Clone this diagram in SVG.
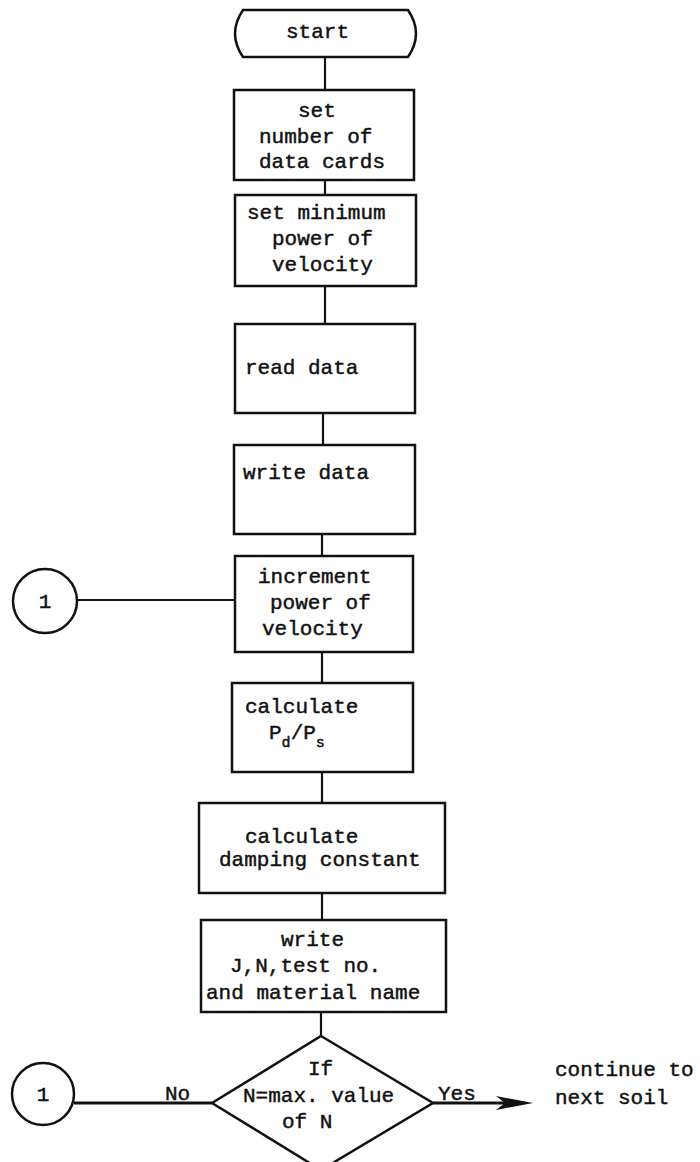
<svg xmlns="http://www.w3.org/2000/svg" width="700" height="1162" viewBox="0 0 700 1162">
<style>
.n{fill:#fff;stroke:#111;stroke-width:2.5}
.c{fill:none;stroke:#111;stroke-width:2.2}
.t{font-family:"Liberation Mono","Courier New",monospace;font-size:21px;fill:#111;stroke:#111;stroke-width:0.45}
.s{font-size:15px}
</style>
<rect width="700" height="1162" fill="#fff"/>
<g id="connectors">
<line class="c" x1="325" y1="57" x2="325" y2="90"/>
<line class="c" x1="325" y1="180" x2="325" y2="195"/>
<line class="c" x1="325" y1="286" x2="325" y2="324"/>
<line class="c" x1="323" y1="413" x2="323" y2="445"/>
<line class="c" x1="322" y1="534" x2="322" y2="556"/>
<line class="c" x1="77" y1="600" x2="235" y2="600" style="stroke-width:1.8"/>
<line class="c" x1="322" y1="652" x2="322" y2="683"/>
<line class="c" x1="322" y1="772" x2="322" y2="803"/>
<line class="c" x1="322" y1="893" x2="322" y2="920"/>
<line class="c" x1="321" y1="1012" x2="321" y2="1036"/>
<line class="c" x1="74" y1="1103" x2="212" y2="1103" style="stroke-width:3"/>
<line class="c" x1="433" y1="1103" x2="520" y2="1103" style="stroke-width:3"/>
<path d="M533 1103 L496 1096 L505 1103 L496 1110 Z" fill="#111"/>
<text class="t" x="165" y="1100">No</text>
<text class="t" x="438" y="1100">Yes</text>
</g>
<g id="start">
<path class="n" d="M243 10 H408 Q424 33.5 408 57 H243 Q227 33.5 243 10 Z"/>
<text class="t" x="286" y="38">start</text>
</g>
<g id="set-cards">
<rect class="n" x="234" y="90" width="180" height="90"/>
<text class="t" x="298" y="117">set</text>
<text class="t" x="259" y="143">number of</text>
<text class="t" x="259" y="168">data cards</text>
</g>
<g id="set-min-power">
<rect class="n" x="235" y="195" width="181" height="91"/>
<text class="t" x="247" y="219">set minimum</text>
<text class="t" x="272" y="245">power of</text>
<text class="t" x="272" y="271">velocity</text>
</g>
<g id="read-data">
<rect class="n" x="235" y="324" width="180" height="89"/>
<text class="t" x="245" y="374">read data</text>
</g>
<g id="write-data">
<rect class="n" x="234" y="445" width="181" height="89"/>
<text class="t" x="243" y="479">write data</text>
</g>
<g id="increment">
<rect class="n" x="235" y="556" width="178" height="96"/>
<text class="t" x="258" y="583">increment</text>
<text class="t" x="270" y="609">power of</text>
<text class="t" x="262" y="635">velocity</text>
</g>
<g id="connector-1a">
<circle class="n" cx="45" cy="601" r="32"/>
<text class="t" x="45" y="608" text-anchor="middle">1</text>
</g>
<g id="calc-pd-ps">
<rect class="n" x="232" y="683" width="181" height="89"/>
<text class="t" x="245" y="713">calculate</text>
<text class="t" x="269" y="739">P<tspan class="s" dy="8">d</tspan><tspan dy="-8">/P</tspan><tspan class="s" dy="8">s</tspan></text>
</g>
<g id="calc-damping">
<rect class="n" x="199" y="803" width="246" height="90"/>
<text class="t" x="245" y="843">calculate</text>
<text class="t" x="219" y="866">damping constant</text>
</g>
<g id="write-results">
<rect class="n" x="201" y="920" width="245" height="92"/>
<text class="t" x="281" y="946">write</text>
<text class="t" x="230" y="972">J,N,test no.</text>
<text class="t" x="206" y="999">and material name</text>
</g>
<g id="decision">
<path class="n" d="M321 1036 L433 1103 L321 1170 L212 1103 Z"/>
<text class="t" x="308" y="1075">If</text>
<text class="t" x="243" y="1102">N=max. value</text>
<text class="t" x="282" y="1128">of N</text>
</g>
<g id="connector-1b">
<circle class="n" cx="43" cy="1094" r="31"/>
<text class="t" x="43" y="1101" text-anchor="middle">1</text>
</g>
<g id="continue">
<text class="t" x="555" y="1076">continue to</text>
<text class="t" x="555" y="1104">next soil</text>
</g>
</svg>
